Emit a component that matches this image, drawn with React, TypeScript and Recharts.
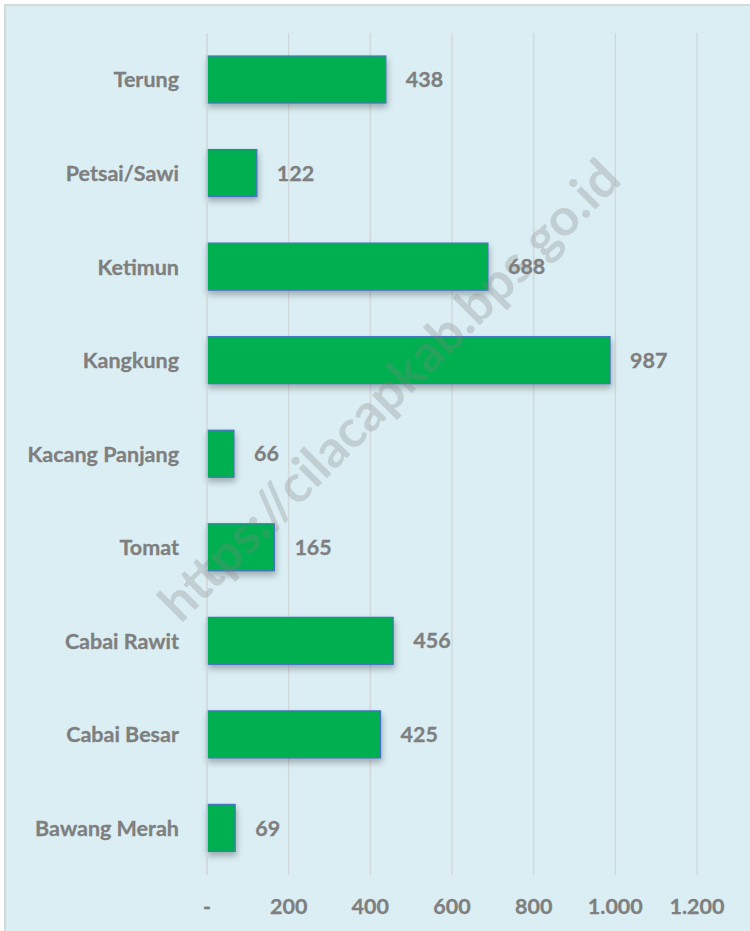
import { BarChart, Bar, XAxis, YAxis, CartesianGrid, LabelList } from 'recharts';

const categories = ['Terung', 'Petsai/Sawi', 'Ketimun', 'Kangkung', 'Kacang Panjang', 'Tomat', 'Cabai Rawit', 'Cabai Besar', 'Bawang Merah'];
const values = [438, 122, 688, 987, 66, 165, 456, 425, 69];
const xTicks = [0, 200, 400, 600, 800, 1000, 1200];

const FONT = 'Lato, "Open Sans", sans-serif';
const TEXT = '#7F7F7F';
const SIZE = 21.5;

const data = categories.map((name, i) => ({ name, value: values[i] }));

// 1000 -> "1.000", 0 -> "-"
const fmt = (v: number) => (v === 0 ? '-' : v.toLocaleString('de-DE'));

const ShadowBar = (props: any) => {
    const { x, y, width, height } = props;
    return (
        <rect
            x={x}
            y={y}
            width={width}
            height={height}
            fill="#00B050"
            stroke="#4472C4"
            strokeWidth={1.2}
            style={{ filter: 'drop-shadow(1px 4px 3px rgba(0,0,0,0.28))' }}
        />
    );
};

const textStyle = { fontSize: SIZE, fontWeight: 700, fill: TEXT, fontFamily: FONT, stroke: TEXT, strokeWidth: 0.3 };

export default function App() {
    return (
        <div style={{ position: 'absolute', left: 0, top: 0, width: 750, height: 931, overflow: 'hidden' }}>
            <div
                style={{
                    position: 'absolute',
                    left: 4,
                    top: 4,
                    width: 760,
                    height: 940,
                    background: '#DAEEF3',
                    borderLeft: '2px solid #D6D9DB',
                    borderTop: '2px solid #D6D9DB',
                }}
            />
            <div style={{ position: 'absolute', left: 0, top: 0 }}>
                <BarChart
                    width={750}
                    height={931}
                    data={data}
                    layout="vertical"
                    margin={{ top: 33, right: 53, left: 0, bottom: 0 }}
                >
                    <CartesianGrid horizontal={false} stroke="#D3D8DB" strokeWidth={1.5} />
                    <XAxis
                        type="number"
                        domain={[0, 1200]}
                        ticks={xTicks}
                        tickFormatter={fmt}
                        axisLine={false}
                        tickLine={false}
                        tickSize={0}
                        tickMargin={24}
                        height={56}
                        interval={0}
                        tick={textStyle}
                    />
                    <YAxis
                        type="category"
                        dataKey="name"
                        width={207}
                        axisLine={{ stroke: '#D3D8DB', strokeWidth: 1.5 }}
                        tickLine={false}
                        tickSize={0}
                        tickMargin={28}
                        interval={0}
                        tick={textStyle}
                    />
                    <Bar dataKey="value" barSize={47} shape={ShadowBar} isAnimationActive={false}>
                        <LabelList dataKey="value" position="right" offset={20} style={textStyle} />
                    </Bar>
                </BarChart>
            </div>
            <svg width={750} height={931} style={{ position: 'absolute', left: 0, top: 0, pointerEvents: 'none' }}>
                <text
                    x={402}
                    y={403}
                    textAnchor="middle"
                    transform="rotate(-45 402 403)"
                    fontFamily={FONT}
                    fontWeight={700}
                    fontSize={52}
                    fill="#808080"
                    fillOpacity={0.28}
                >
                    https://cilacapkab.bps.go.id
                </text>
            </svg>
        </div>
    );
}
